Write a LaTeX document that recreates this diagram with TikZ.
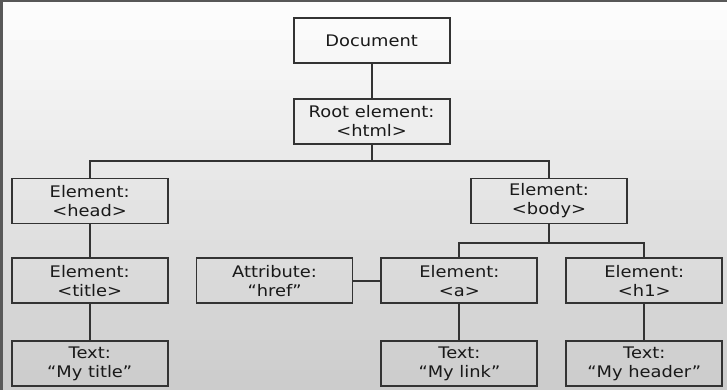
\documentclass[tikz,border=0pt]{standalone}
\usepackage{fontspec}
\newfontfamily\domfont{DejaVu Sans}[FakeStretch=1.12]
\usetikzlibrary{positioning}

\begin{document}
\begin{tikzpicture}[x=0.75bp,y=0.75bp,node distance=25.5bp and 20.25bp,
  elem/.style={draw=black!80,line width=1.4pt,minimum width=117bp,minimum height=33.75bp,
    inner sep=0pt,align=center,text=black!90,font=\domfont\fontsize{12}{14.3}\selectfont},
  wire/.style={draw=black!80,line width=1.4pt}]
  % page
  \useasboundingbox (0,0) rectangle (727,390);
  \foreach \i in {0,...,38} {
    \pgfmathsetmacro\shadeval{20*(1-\i/39)}
    \fill[black!\shadeval] (-5,\i*10) rectangle (732,\i*10+10.5);
  }
  \draw[black!65,line width=2pt] (1.2,-5) -- (1.2,389) -- (732,389);
  % tree
  \node[elem] (doc) at (371.6,349.5) {Document};
  \node[elem, below=of doc] (root) {Root element:\\<html>};
  \node[elem] (head) at (89.7,189) {Element:\\<head>};
  \node[elem] (body) at (549,189) {Element:\\<body>};
  \node[elem, below=24.6bp of head] (title) {Element:\\<title>};
  \node[elem, right=of title] (href) {Attribute:\\“href”};
  \node[elem, right=of href] (link) {Element:\\<a>};
  \node[elem, right=of link] (hone) {Element:\\<h1>};
  \node[elem, below=27bp of title] (titletxt) {Text:\\“My title”};
  \node[elem, below=27bp of link] (linktxt) {Text:\\“My link”};
  \node[elem, below=27bp of hone] (headertxt) {Text:\\“My header”};
  \draw[wire] (root.south) -- ++(0,-16) -| (head.north);
  \draw[wire] (root.south) -- ++(0,-16) -| (body.north);
  \draw[wire] (body.south) -- ++(0,-18.7) -| (link.north);
  \draw[wire] (body.south) -- ++(0,-18.7) -| (hone.north);
  \foreach \a/\b in {doc/root, head/title, title/titletxt, href/link, link/linktxt, hone/headertxt} {\draw[wire] (\a) -- (\b);}
\end{tikzpicture}
\end{document}
